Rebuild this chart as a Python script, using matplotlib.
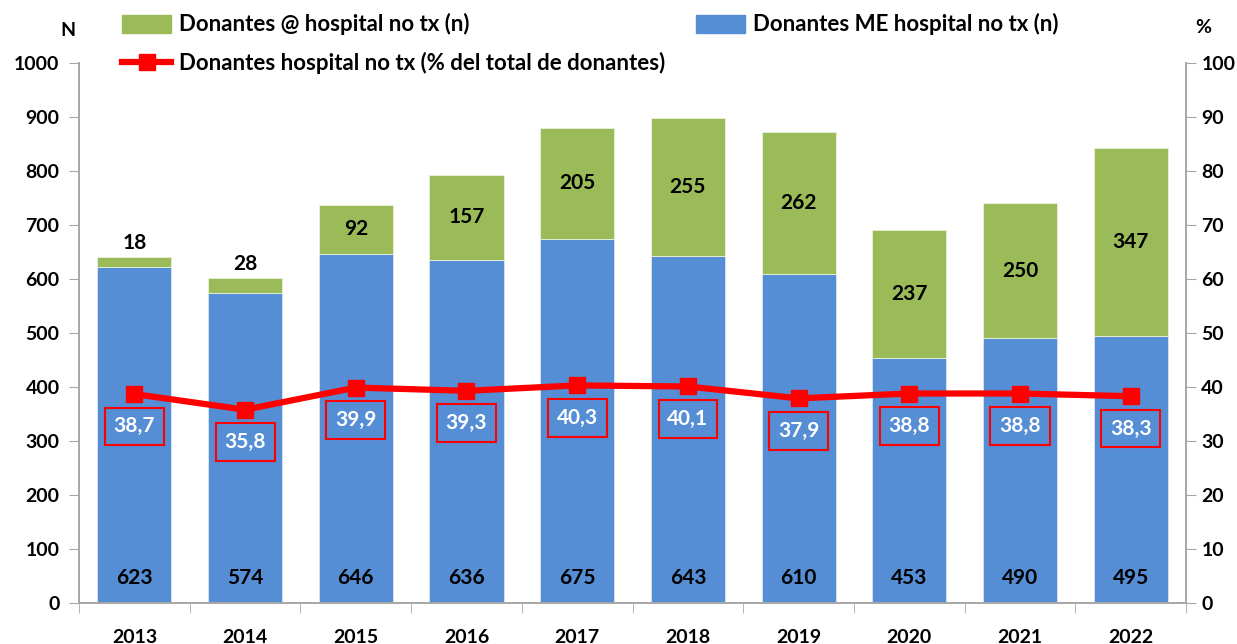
import numpy as np
import matplotlib.pyplot as plt
from matplotlib.patches import Patch
from matplotlib.lines import Line2D

plt.rcParams["font.family"] = ["Lato", "DejaVu Sans"]
plt.rcParams["font.weight"] = "bold"

years = ["2013", "2014", "2015", "2016", "2017", "2018", "2019", "2020", "2021", "2022"]
me_hospital = [623, 574, 646, 636, 675, 643, 610, 453, 490, 495]
at_hospital = [18, 28, 92, 157, 205, 255, 262, 237, 250, 347]
pct_total = [38.7, 35.8, 39.9, 39.3, 40.3, 40.1, 37.9, 38.8, 38.8, 38.3]

blue = "#558ED5"
green = "#9BBB59"
red = "#FF0000"
grey = "#A6A6A6"

fig = plt.figure(figsize=(12.37, 6.44), dpi=100)
ax = fig.add_axes([0.0639, 0.0637, 0.8949, 0.8383])
ax2 = ax.twinx()

x = np.arange(len(years))
ax.bar(x, me_hospital, width=0.67, color=blue, edgecolor="#DCE6F2", linewidth=0.6, zorder=2)
ax.bar(x, at_hospital, width=0.67, bottom=me_hospital, color=green, edgecolor="#EBF1DE",
       linewidth=0.6, zorder=2)

for i in range(len(years)):
    ax.text(x[i], 46, str(me_hospital[i]), ha="center", va="center", fontsize=15,
            fontweight="bold", color="black", zorder=3)
    top = me_hospital[i] + at_hospital[i]
    if at_hospital[i] < 60:
        ypos = top + 25
    else:
        ypos = me_hospital[i] + at_hospital[i] / 2
    ax.text(x[i], ypos, str(at_hospital[i]), ha="center", va="center", fontsize=15,
            fontweight="bold", color="black", zorder=3)

ax.set_xlim(-0.5, len(years) - 0.5)
ax.set_ylim(0, 1000)
ax.set_yticks(np.arange(0, 1001, 100))
ax.set_xticks(x)
ax.set_xticklabels(years)
ax.set_xticks(np.arange(-0.5, len(years)), minor=True)
ax.tick_params(axis="x", which="major", length=0, pad=19, labelsize=14)
ax.tick_params(axis="x", which="minor", length=7, color=grey, direction="out")
ax.tick_params(axis="y", length=7, color=grey, labelsize=14, pad=7)

ax2.plot(x, pct_total, color=red, linewidth=4.5, marker="s", markersize=11, zorder=5)
for i in range(len(years)):
    ax2.text(x[i], pct_total[i] - 6.0, f"{pct_total[i]:.1f}".replace(".", ","),
             ha="center", va="center", fontsize=15, fontweight="bold", color="white",
             bbox=dict(boxstyle="square,pad=0.42", facecolor="none", edgecolor=red,
                       linewidth=1.5), zorder=6)
ax2.set_ylim(0, 100)
ax2.set_yticks(np.arange(0, 101, 10))
ax2.tick_params(axis="y", length=7, color=grey, labelsize=14, pad=4)

for a in (ax, ax2):
    a.spines["top"].set_visible(False)
    for s in ("left", "right", "bottom"):
        a.spines[s].set_color(grey)
        a.spines[s].set_linewidth(1.2)
    for lab in a.get_yticklabels() + a.get_xticklabels():
        lab.set_fontweight("bold")
ax.set_zorder(ax2.get_zorder() - 1)
ax2.patch.set_visible(False)
ax.set_axisbelow(True)

fig.text(0.055, 0.952, "N", ha="center", va="center", fontsize=14, fontweight="bold")
fig.text(0.973, 0.957, "%", ha="center", va="center", fontsize=14, fontweight="bold")

handles = [Patch(facecolor=green, edgecolor=green),
           Line2D([0], [0], color=red, linewidth=4.5, marker="s", markersize=11),
           Patch(facecolor=blue, edgecolor=blue)]
labels = ["Donantes @ hospital no tx (n)",
          "Donantes hospital no tx (% del total de donantes)",
          "Donantes ME hospital no tx (n)"]
fig.legend(handles, labels, loc="upper left", bbox_to_anchor=(0.088, 1.0), ncol=2,
           frameon=False, handlelength=2.2, handleheight=0.9, handletextpad=0.35,
           columnspacing=1.4, labelspacing=0.75, borderaxespad=0.2,
           prop={"weight": "bold", "size": 16})

fig.savefig("out.png", dpi=100)
